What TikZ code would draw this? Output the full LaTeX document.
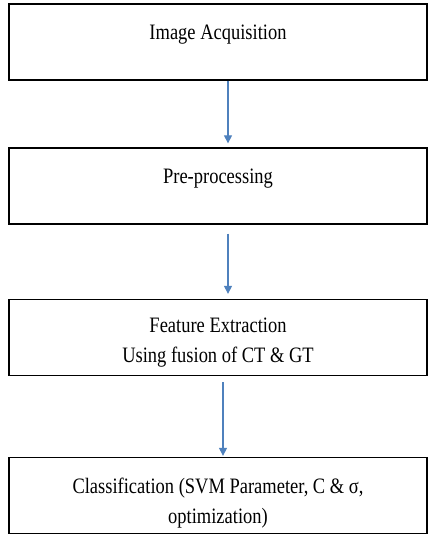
\documentclass[tikz,border=0pt]{standalone}
\usepackage{fontspec}
\setmainfont{Liberation Serif}[FakeStretch=0.84]
\usetikzlibrary{arrows.meta, positioning}
\definecolor{flowblue}{RGB}{79,129,189}

\begin{document}
\begin{tikzpicture}[x=1pt, y=-1pt, font=\fontsize{22}{30}\selectfont,
    stagebox/.style={draw=black, line width=1.3pt, minimum width=418pt,
                     minimum height=76pt, inner sep=0pt},
    stagetext/.style={align=center, inner sep=0pt},
    flow/.style={draw=flowblue, line width=1.1pt,
                 -{Triangle[width=8pt, length=8pt]}}]
  \useasboundingbox (0,0) rectangle (431,539);

  %% boxes
  \node[stagebox] (acq)   at (218, 42)  {};
  \node[stagebox] (pre)   at (218, 186) {};
  \node[stagebox] (feat)  at (218, 337.5) {};
  \node[stagebox] (class) at (218, 495.5) {};

  %% texts
  \node[stagetext] (acqtext)   at (218, 34.5) {Image Acquisition};
  \node[stagetext] (pretext)   at (218, 179)  {Pre-processing};
  \node[stagetext] (feattext)  at (218, 343)  {Feature Extraction\\Using fusion of CT \& GT};
  \node[stagetext] (classtext) at (218, 503)  {Classification (SVM Parameter, C \& σ,\\optimization)};

  %% connectors
  \draw[flow] ([xshift=10pt]acq.south) -- ([xshift=10pt, yshift=4pt]pre.north);
  \draw[flow, shorten <=9pt] ([xshift=10pt]pre.south) -- ([xshift=10pt, yshift=5pt]feat.north);
  \draw[flow, shorten <=6pt] ([xshift=5pt]feat.south) -- ([xshift=5pt, yshift=1pt]class.north);
\end{tikzpicture}
\end{document}
